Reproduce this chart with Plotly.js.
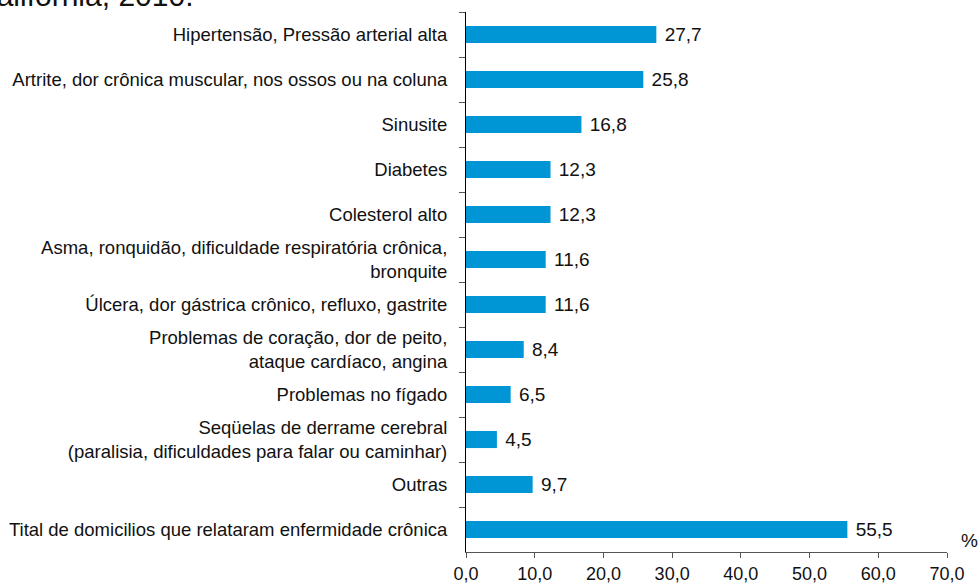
<!DOCTYPE html>
<html>
<head>
<meta charset="utf-8">
<script src="https://cdn.plot.ly/plotly-3.0.1.min.js"></script>
<style>html,body{margin:0;padding:0;background:#fff;}#chart{width:979px;height:583px;}</style>
</head>
<body>
<div id="chart"></div>
<script>
const categories = [
  "Hipertensão, Pressão arterial alta",
  "Artrite, dor crônica muscular, nos ossos ou na coluna",
  "Sinusite",
  "Diabetes",
  "Colesterol alto",
  "Asma, ronquidão, dificuldade respiratória crônica,<br>bronquite",
  "Úlcera, dor gástrica crônico, refluxo, gastrite",
  "Problemas de coração, dor de peito,<br>ataque cardíaco, angina",
  "Problemas no fígado",
  "Seqüelas de derrame cerebral<br>(paralisia, dificuldades para falar ou caminhar)",
  "Outras",
  "Tital de domicilios que relataram enfermidade crônica"
];
const values = [27.7, 25.8, 16.8, 12.3, 12.3, 11.6, 11.6, 8.4, 6.5, 4.5, 9.7, 55.5];
const xTicks = [0, 10, 20, 30, 40, 50, 60, 70];
const titleText = "California, 2010.";

const FONT = "'Liberation Sans', Arial, sans-serif";
const labels = values.map(v => "\u00a0" + v.toFixed(1).replace('.', ','));

const trace = {
  type: 'bar',
  orientation: 'h',
  x: values,
  y: categories,
  marker: {color: '#0096d6'},
  text: labels,
  textposition: 'outside',
  constraintext: 'none',
  cliponaxis: false,
  textfont: {family: FONT, size: 19, color: '#111'},
  hoverinfo: 'none'
};

const layout = {
  width: 979, height: 583,
  margin: {l: 466, r: 32, t: 12, b: 31, pad: 0},
  paper_bgcolor: '#fff', plot_bgcolor: '#fff',
  separators: ',.',
  bargap: 0.62,
  showlegend: false,
  font: {family: FONT, size: 18, color: '#111'},
  xaxis: {
    range: [0, 70],
    tickvals: xTicks,
    tickformat: '.1f',
    ticks: 'outside', ticklen: 5, tickcolor: '#555', tickwidth: 1,
    showline: true, linecolor: '#555', linewidth: 1,
    showgrid: false, zeroline: false,
    ticklabelstandoff: 0,
    tickfont: {family: FONT, size: 18, color: '#111'},
    fixedrange: true
  },
  yaxis: {
    type: 'category',
    autorange: 'reversed',
    tickson: 'boundaries',
    ticks: 'outside', ticklen: 6, tickcolor: '#555', tickwidth: 1,
    showline: true, linecolor: '#000', linewidth: 1,
    showgrid: false, zeroline: false,
    ticklabelstandoff: 14,
    tickfont: {family: FONT, size: 18.5, color: '#111'},
    fixedrange: true
  },
  annotations: [
    {text: '%', xref: 'paper', yref: 'paper', x: 1.024, y: 0.022, xanchor: 'left', yanchor: 'middle',
     showarrow: false, font: {family: FONT, size: 19, color: '#111'}},
    {text: titleText, xref: 'paper', yref: 'paper', x: (195 - 466) / 481, y: 1 + (12 + 4) / 540,
     xanchor: 'right', yanchor: 'middle', showarrow: false,
     font: {family: FONT, size: 30, color: '#111'}}
  ]
};

Plotly.newPlot('chart', [trace], layout, {displayModeBar: false, staticPlot: true});
</script>
</body>
</html>
